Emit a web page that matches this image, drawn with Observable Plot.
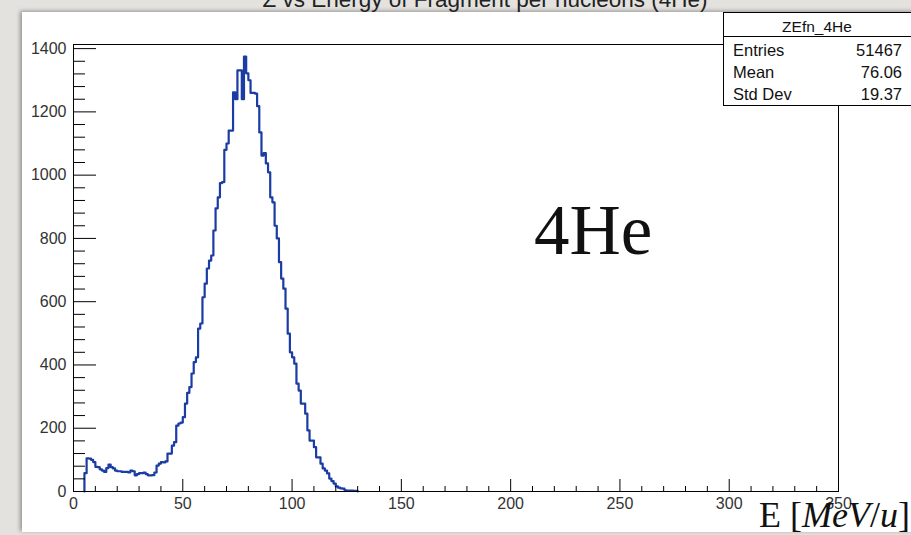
<!DOCTYPE html>
<html>
<head>
<meta charset="utf-8">
<script src="https://cdn.jsdelivr.net/npm/d3@7"></script>
<script src="https://cdn.jsdelivr.net/npm/@observablehq/plot@0.6"></script>
<style>
  html, body { margin: 0; padding: 0; }
  body { width: 911px; height: 535px; overflow: hidden; position: relative;
         background: #e3e2de; font-family: "Liberation Sans", Arial, sans-serif; }
  #paper { position: absolute; left: 22px; top: 12px; width: 900px; height: 520px; background: #fff;
           box-shadow: -2px -1px 4px rgba(0,0,0,0.35); }
  #chart { position: absolute; left: 0; top: 0; }
  .ov { position: absolute; line-height: 1; white-space: nowrap; }
  #title { left: 0; width: 970px; text-align: center; top: -11px; font-size: 22.5px; color: #222; }
  #stats { position: absolute; left: 723px; top: 12px; width: 200px; height: 92px; border: 1px solid #000; background: #fff; }
  #stats .hdr { position: absolute; left: 0; top: 0; width: 188px; height: 23px; border-bottom: 1px solid #000; }
  .st { position: absolute; line-height: 1; font-size: 16.5px; color: #111; white-space: nowrap; }
  .serif { font-family: "Liberation Serif", "Times New Roman", serif; color: #111; }
</style>
</head>
<body>
<div id="paper"></div>
<div id="title" class="ov">Z vs Energy of Fragment per nucleons (4He)</div>
<div id="chart"></div>
<div id="stats">
  <div class="hdr"></div>
</div>
<div id="stattext"></div>
<div class="ov serif" style="left:534px; top:195px; font-size:71px;">4He</div>
<div class="ov serif" style="left:759px; top:497px; font-size:36px;">E [<i>MeV</i>/<i>u</i>]</div>
<script>
// ---- data ----
const histName = "ZEfn_4He";
const statLabels = ["Entries", "Mean", "Std Dev"];
const statValues = ["51467", "76.06", "19.37"];
const binWidth = 1;      // MeV/u
const firstBin = 5;      // lower edge of first non-empty bin
const counts = [
  58, 105, 104, 100, 93, 78, 77, 70, 66, 62,          // 5-14
  74, 85, 77, 73, 66, 64, 64, 62, 62, 62,             // 15-24
  60, 66, 64, 51, 55, 58, 58, 60, 55, 51,             // 25-34
  51, 52, 60, 82, 88, 93, 92, 95, 120, 120,           // 35-44
  145, 156, 208, 215, 218, 235, 278, 312, 330, 373,   // 45-54
  409, 424, 515, 531, 614, 657, 705, 730, 746, 825,   // 55-64
  895, 930, 975, 978, 1080, 1100, 1141, 1141, 1262, 1240, // 65-74
  1331, 1331, 1240, 1375, 1322, 1300, 1260, 1260, 1258, 1218, // 75-84
  1135, 1062, 1070, 1037, 1009, 930, 914, 840, 800, 725, // 85-94
  673, 641, 578, 499, 440, 424, 404, 341, 319, 278,   // 95-104
  278, 246, 193, 161, 161, 140, 108, 108, 88, 73,     // 105-114
  66, 57, 41, 33, 25, 16, 12, 10, 9, 4,               // 115-124
  3, 3, 3, 2, 2                                       // 125-129
];
const xMajorTicks = [0, 50, 100, 150, 200, 250, 300, 350];
const xMinorTicks = [10,20,30,40,60,70,80,90,110,120,130,140,160,170,180,190,210,220,230,240,260,270,280,290,310,320,330,340];
const yMajorTicks = [0, 200, 400, 600, 800, 1000, 1200, 1400];
const yMinorTicks = [40,80,120,160,240,280,320,360,440,480,520,560,640,680,720,760,840,880,920,960,1040,1080,1120,1160,1240,1280,1320,1360];

// ---- histogram outline points ----
const pts = [{x: firstBin, y: 0}];
counts.forEach((c, i) => pts.push({x: firstBin + i * binWidth, y: c}));
pts.push({x: firstBin + counts.length * binWidth, y: 0});

const blank = () => "";
const chart = Plot.plot({
  width: 911,
  height: 535,
  marginLeft: 73,
  marginRight: 73,
  marginTop: 44,
  marginBottom: 44,
  x: {domain: [0, 350]},
  y: {domain: [0, 1413]},
  style: {background: "transparent", fontFamily: "'Liberation Sans', Arial, sans-serif", fontSize: "16px", color: "#333"},
  marks: [
    Plot.line(pts, {x: "x", y: "y", curve: "step-after", stroke: "#1b3ca3", strokeWidth: 2.2}),
    Plot.frame({stroke: "#000", strokeWidth: 1}),
    Plot.axisX({ticks: xMajorTicks, tickSize: 0, tickPadding: 6, tickFormat: d => String(d), label: null, fill: "#333"}),
    Plot.axisX({ticks: xMajorTicks, tickSize: -12, tickFormat: blank, label: null, stroke: "#000"}),
    Plot.axisX({ticks: xMinorTicks, tickSize: -5, tickFormat: blank, label: null, stroke: "#000"}),
    Plot.axisY({ticks: yMajorTicks, tickSize: 0, tickPadding: 7, tickFormat: d => String(d), label: null, fill: "#333"}),
    Plot.axisY({ticks: yMajorTicks, tickSize: -23, tickFormat: blank, label: null, stroke: "#000"}),
    Plot.axisY({ticks: yMinorTicks, tickSize: -12, tickFormat: blank, label: null, stroke: "#000"})
  ]
});
document.getElementById("chart").appendChild(chart);

// ---- stats box text ----
const st = document.getElementById("stattext");
function addText(txt, left, top, size, align) {
  const d = document.createElement("div");
  d.className = "st";
  d.textContent = txt;
  d.style.fontSize = size + "px";
  d.style.top = top + "px";
  if (align === "right") { d.style.right = (911 - left) + "px"; }
  else if (align === "center") { d.style.left = (left - 100) + "px"; d.style.width = "200px"; d.style.textAlign = "center"; }
  else { d.style.left = left + "px"; }
  st.appendChild(d);
}
addText(histName, 817, 32 - 0.8465 * 15.5, 15.5, "center");
const baselines = [56, 78, 99.5];
statLabels.forEach((l, i) => addText(l, 733, baselines[i] - 0.8465 * 16.5, 16.5, "left"));
statValues.forEach((v, i) => addText(v, 902, baselines[i] - 0.8465 * 16.5, 16.5, "right"));
</script>
</body>
</html>
